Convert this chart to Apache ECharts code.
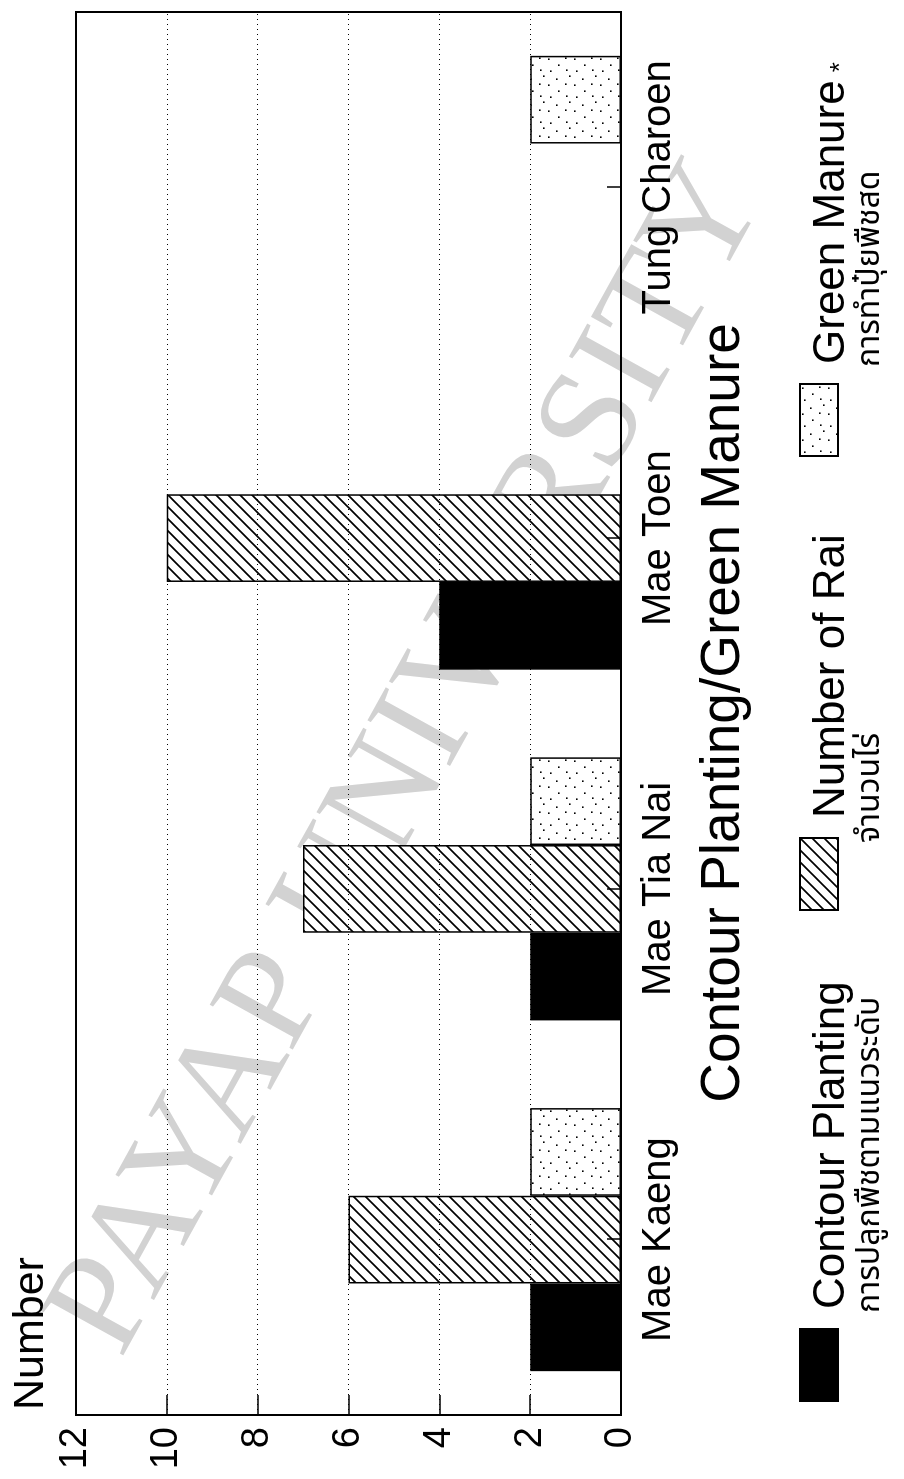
<!DOCTYPE html>
<html>
<head>
<meta charset="utf-8">
<script src="https://cdn.jsdelivr.net/npm/echarts@6/dist/echarts.min.js"></script>
<style>
html,body{margin:0;padding:0;width:904px;height:1479px;overflow:hidden;background:#fff;}
#chart{position:absolute;left:0;top:0;width:1479px;height:904px;transform-origin:0 0;transform:translateY(1479px) rotate(-90deg);}
</style>
</head>
<body>
<div id="chart"></div>
<script>
// ---- data ----
const categories = ['Mae Kaeng', 'Mae Tia Nai', 'Mae Toen', 'Tung Charoen'];
const contourPlanting = [2, 2, 4, null];
const numberOfRai = [6, 7, 10, null];
const greenManure = [2, 2, null, 2];
const valueTicks = [0, 2, 4, 6, 8, 10, 12];
const seriesNames = ['Contour Planting', 'Number of Rai', 'Green Manure *'];
const thaiNames = ['การปลูกพืชตามแนวระดับ', 'จำนวนไร่', 'การทำปุ๋ยพืชสด'];
const axisName = 'Number';
const chartTitle = 'Contour Planting/Green Manure';
const watermark = 'PAYAP UNIVERSITY';

const FONT = '"Liberation Sans", Arial, Helvetica, sans-serif';
const THAI = '"Noto Sans Thai", "Noto Sans Thai UI", Loma, Garuda, "Noto Sans", sans-serif';

function hatchPattern() {
  const s = 12;
  const c = document.createElement('canvas');
  c.width = s; c.height = s;
  const g = c.getContext('2d');
  g.fillStyle = '#fff'; g.fillRect(0, 0, s, s);
  g.strokeStyle = '#000'; g.lineWidth = 1.7;
  g.beginPath();
  g.moveTo(0, s); g.lineTo(s, 0);
  g.moveTo(-3, 3); g.lineTo(3, -3);
  g.moveTo(s - 3, s + 3); g.lineTo(s + 3, s - 3);
  g.stroke();
  return c;
}
function dotPattern() {
  const s = 26;
  const c = document.createElement('canvas');
  c.width = s; c.height = s;
  const g = c.getContext('2d');
  g.fillStyle = '#fff'; g.fillRect(0, 0, s, s);
  g.fillStyle = '#000';
  const pts = [[3, 4], [15, 2], [9, 12], [21, 10], [4, 20], [16, 19], [24, 23]];
  pts.forEach(p => g.fillRect(p[0], p[1], 1.6, 1.6));
  return c;
}

const chart = echarts.init(document.getElementById('chart'), null, {renderer: 'canvas'});
const border = {borderColor: '#000', borderWidth: 1.5};

const legendLefts = [72, 563, 1017];
const legends = seriesNames.map((n, i) => ({
  data: [n],
  left: legendLefts[i],
  top: 794,
  orient: 'horizontal',
  icon: 'rect',
  itemWidth: 72,
  itemHeight: 38,
  selectedMode: false,
  formatter: function (name) {
    return name.endsWith(' *') ? name.slice(0, -2) + '{s|*}' : name;
  },
  textStyle: {
    fontSize: 44, color: '#000', fontFamily: FONT, padding: [26, 0, 0, 15],
    rich: {s: {fontSize: 26, color: '#000', fontFamily: FONT, verticalAlign: 'bottom', padding: [0, 0, 0, 8]}}
  }
}));

const option = {
  animation: false,
  backgroundColor: '#fff',
  grid: {left: 64, right: 12, top: 76, bottom: 283, show: true, borderColor: '#000', borderWidth: 2, backgroundColor: 'transparent'},
  legend: legends,
  xAxis: {
    type: 'category',
    data: categories,
    z: 5,
    axisLine: {lineStyle: {color: '#000', width: 2}},
    axisTick: {show: true, alignWithLabel: true, inside: true, length: 14, lineStyle: {color: '#000', width: 1.5}},
    axisLabel: {fontSize: 40, color: '#000', fontFamily: FONT, margin: 38, verticalAlign: 'middle', interval: 0}
  },
  yAxis: {
    type: 'value',
    min: valueTicks[0],
    max: valueTicks[valueTicks.length - 1],
    interval: valueTicks[1] - valueTicks[0],
    z: 5,
    name: axisName,
    nameLocation: 'end',
    nameGap: 23,
    nameTextStyle: {fontSize: 43, color: '#000', fontFamily: FONT, align: 'left', verticalAlign: 'bottom', padding: [0, 0, 0, 5]},
    axisLine: {show: true, lineStyle: {color: '#000', width: 2}},
    axisTick: {show: true, inside: true, length: 20, lineStyle: {color: '#000', width: 1.5}},
    axisLabel: {fontSize: 38, color: '#000', fontFamily: FONT, margin: 12},
    splitLine: {show: true, lineStyle: {type: [1, 4], color: '#000', width: 1}}
  },
  series: [
    {name: seriesNames[0], type: 'bar', data: contourPlanting, barGap: '0%', barCategoryGap: '25%',
      itemStyle: Object.assign({color: '#000'}, border)},
    {name: seriesNames[1], type: 'bar', data: numberOfRai, barGap: '0%', barCategoryGap: '25%',
      itemStyle: Object.assign({color: {image: hatchPattern(), repeat: 'repeat'}}, border)},
    {name: seriesNames[2], type: 'bar', data: greenManure, barGap: '0%', barCategoryGap: '25%',
      itemStyle: Object.assign({color: {image: dotPattern(), repeat: 'repeat'}}, border)}
  ],
  graphic: [
    {type: 'text', x: 719, y: 410, rotation: -0.506, z: -10, silent: true,
      style: {text: watermark, fontSize: 144, fontFamily: '"Liberation Serif", "DejaVu Serif", serif', fill: '#d2d2d2', align: 'center', verticalAlign: 'middle'}},
    {type: 'text', x: 766, y: 724, z: 10,
      style: {text: chartTitle, fontSize: 55, fontFamily: FONT, fill: '#000', align: 'center', verticalAlign: 'middle'}},
    {type: 'text', x: 166, y: 873, z: 10, style: {text: thaiNames[0], fontSize: 32, fontFamily: THAI, fill: '#000', align: 'left', verticalAlign: 'middle'}},
    {type: 'text', x: 636, y: 873, z: 10, style: {text: thaiNames[1], fontSize: 32, fontFamily: THAI, fill: '#000', align: 'left', verticalAlign: 'middle'}},
    {type: 'text', x: 1112, y: 873, z: 10, style: {text: thaiNames[2], fontSize: 32, fontFamily: THAI, fill: '#000', align: 'left', verticalAlign: 'middle'}}
  ]
};
chart.setOption(option);
</script>
</body>
</html>
